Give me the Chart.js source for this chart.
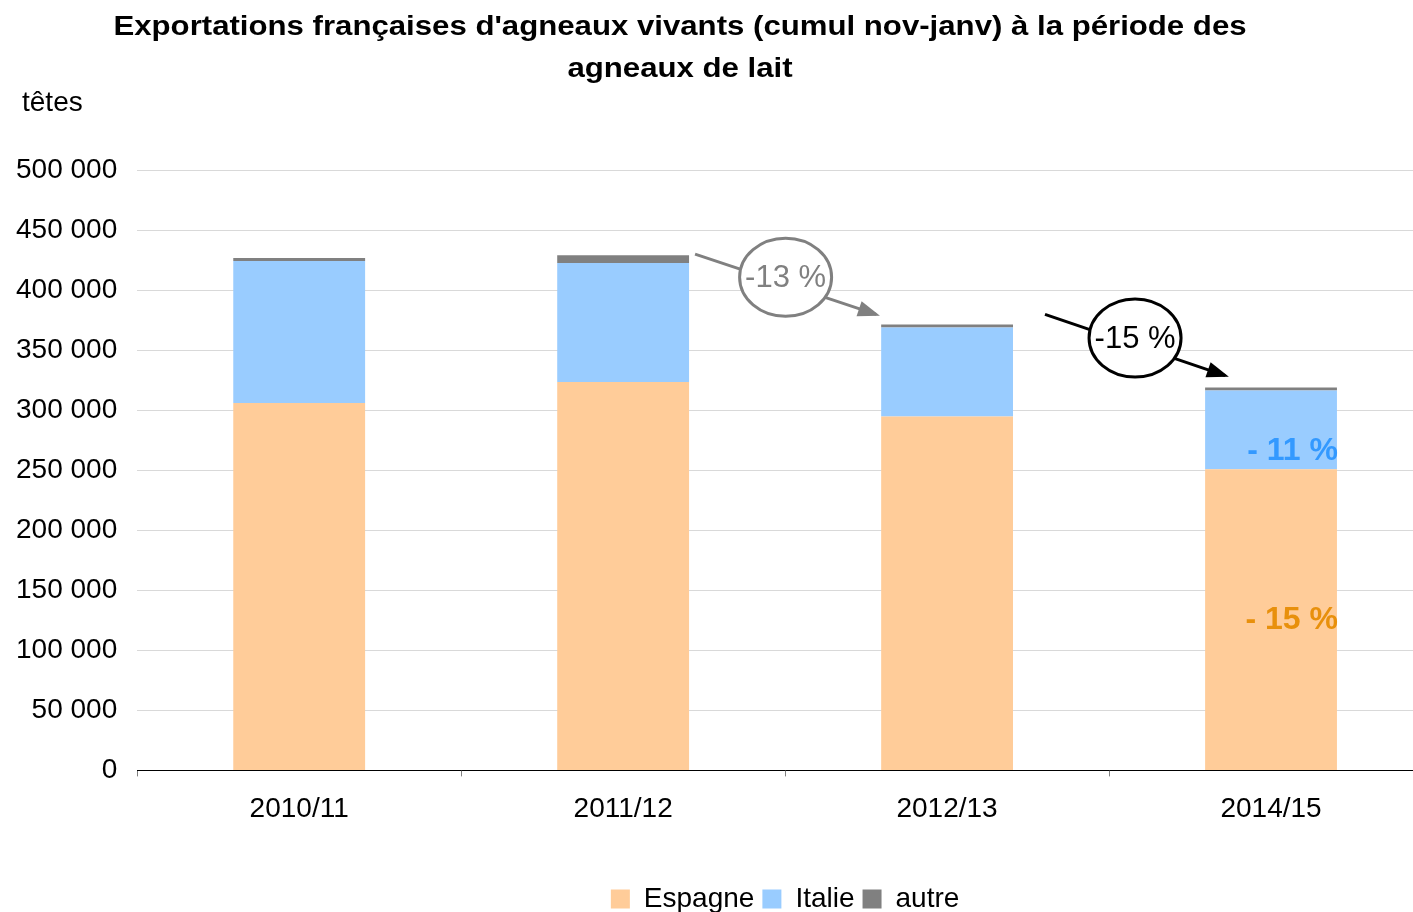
<!DOCTYPE html>
<html>
<head>
<meta charset="utf-8">
<script src="https://cdn.jsdelivr.net/npm/chart.js@4.4.1/dist/chart.umd.min.js"></script>
<style>
html,body{margin:0;padding:0;background:#fff;overflow:hidden}
#wrap{width:1433px;height:912px}
</style>
</head>
<body>
<div id="wrap"><canvas id="c" width="1433" height="912"></canvas></div>
<script>

// campagnes (cumul nov-janv)
const campagnes = ["2010/11","2011/12","2012/13","2014/15"]

// têtes exportées
const espagne = [306000,323500,294700,250700]
const italie  = [118300, 99000, 74200, 65600]
const autre   = [  2400,  6600,  2500,  2500]

const yTicks = [0,50000,100000,150000,200000,250000,300000,350000,400000,450000,500000]

const titre = ["Exportations françaises d'agneaux vivants (cumul nov-janv) à la période des","agneaux de lait"]

// évolutions affichées
const evolTotal = [
  {de:1, a:2, texte:"-13 %", couleur:"#808080"},
  {de:2, a:3, texte:"-15 %", couleur:"#000000"}
]
const evolEspagne = "- 15 %"
const evolItalie = "- 11 %"

const FONT = "'Liberation Sans', Arial, sans-serif"

const fmt = v => String(v).replace(/\B(?=(\d{3})+(?!\d))/g," ")

/* ===== TITRE + UNITE ===== */

const titrePlugin = {
  id:"titre",
  afterDraw(chart){
    const {ctx} = chart
    ctx.save()
    ctx.fillStyle="#000"
    ctx.textAlign="center"
    ctx.textBaseline="middle"
    ctx.font="bold 28px "+FONT
    ctx.save()
    ctx.translate(680,0)
    ctx.scale(1.113,1)
    ctx.fillText(titre[0],0,27)
    ctx.fillText(titre[1],0,69)
    ctx.restore()
    ctx.textAlign="left"
    ctx.font="28px "+FONT
    ctx.fillText("têtes",22,103)
    ctx.restore()
  }
}

/* ===== FLECHES ET ELLIPSES ===== */

const fleche = (ctx,x0,y0,x1,y1,col)=>{
  ctx.strokeStyle=col
  ctx.fillStyle=col
  ctx.lineWidth=3
  ctx.beginPath()
  ctx.moveTo(x0,y0)
  ctx.lineTo(x1,y1)
  ctx.stroke()
  const a=Math.atan2(y1-y0,x1-x0)
  const L=18, W=8
  ctx.beginPath()
  ctx.moveTo(x1+4*Math.cos(a),y1+4*Math.sin(a))
  ctx.lineTo(x1-L*Math.cos(a)-W*Math.sin(a),y1-L*Math.sin(a)+W*Math.cos(a))
  ctx.lineTo(x1-L*Math.cos(a)+W*Math.sin(a),y1-L*Math.sin(a)-W*Math.cos(a))
  ctx.closePath()
  ctx.fill()
}

const evolPlugin = {
  id:"evol",
  afterDatasetsDraw(chart){
    const {ctx, scales:{x,y}} = chart
    const bar = chart.getDatasetMeta(0).data
    const half = bar[0].width/2
    ctx.save()

    evolTotal.forEach((e,k)=>{
      const t0 = espagne[e.de]+italie[e.de]+autre[e.de]
      const t1 = espagne[e.a]+italie[e.a]+autre[e.a]
      let x0,y0,x1,y1
      if(k===0){
        x0 = x.getPixelForValue(e.de)+half+6;  y0 = y.getPixelForValue(t0)-1
        x1 = x.getPixelForValue(e.a)-half-5;   y1 = y.getPixelForValue(t1)-10
      } else {
        x0 = x.getPixelForValue(e.de)+half+32; y0 = y.getPixelForValue(t0)-10
        x1 = x.getPixelForValue(e.a)-half+20;  y1 = y.getPixelForValue(t1)-12
      }
      fleche(ctx,x0,y0,x1,y1,e.couleur)
      const cx=(x0+x1)/2, cy=(y0+y1)/2-7
      ctx.beginPath()
      ctx.ellipse(cx,cy,46,39,0,0,Math.PI*2)
      ctx.fillStyle="#fff"
      ctx.fill()
      ctx.lineWidth=3
      ctx.strokeStyle=e.couleur
      ctx.stroke()
      ctx.fillStyle=e.couleur
      ctx.font="31px "+FONT
      ctx.textAlign="center"
      ctx.textBaseline="middle"
      ctx.fillText(e.texte,cx,cy+1)
    })

    // étiquettes sur la dernière barre
    const i = campagnes.length-1
    const xr = x.getPixelForValue(i)+half+1
    ctx.font="bold 32px "+FONT
    ctx.textAlign="right"
    ctx.textBaseline="middle"
    ctx.fillStyle="#3399FF"
    ctx.fillText(evolItalie,xr,y.getPixelForValue(espagne[i]+15000))
    ctx.fillStyle="#E8900C"
    ctx.fillText(evolEspagne,xr,y.getPixelForValue(espagne[i]/2))

    ctx.restore()
  }
}

/* ===== CHART ===== */

new Chart(document.getElementById("c"),{
  type:"bar",
  data:{
    labels:campagnes,
    datasets:[
      {label:"Espagne",data:espagne,backgroundColor:"#FFCC99"},
      {label:"Italie",data:italie,backgroundColor:"#99CCFF"},
      {label:"autre",data:autre,backgroundColor:"#808080"}
    ]
  },
  options:{
    responsive:false,
    animation:false,
    layout:{padding:{top:170,left:-4,right:0,bottom:-11}},
    datasets:{bar:{categoryPercentage:1,barPercentage:0.407,borderWidth:0}},
    plugins:{
      title:{display:false},
      tooltip:{enabled:false},
      legend:{
        position:"bottom",
        fullSize:false,
        labels:{
          color:"#000",
          font:{family:FONT,size:28},
          boxWidth:19,
          boxHeight:19,
          padding:8
        }
      }
    },
    scales:{
      x:{
        stacked:true,
        grid:{display:true,drawOnChartArea:false,drawTicks:true,tickLength:6,tickColor:"#808080"},
        border:{display:true,color:"#000",width:1},
        ticks:{color:"#000",font:{family:FONT,size:28},padding:16},
        afterFit(scale){ scale.height += 35 }
      },
      y:{
        stacked:true,
        min:0,max:500000,
        afterBuildTicks(scale){ scale.ticks = yTicks.map(v=>({value:v})) },
        grid:{color:"#D9D9D9",lineWidth:1,drawTicks:false},
        border:{display:false},
        ticks:{color:"#000",font:{family:FONT,size:28},padding:20,callback:v=>fmt(v)}
      }
    }
  },
  plugins:[evolPlugin,titrePlugin]
})

</script>
</body>
</html>
